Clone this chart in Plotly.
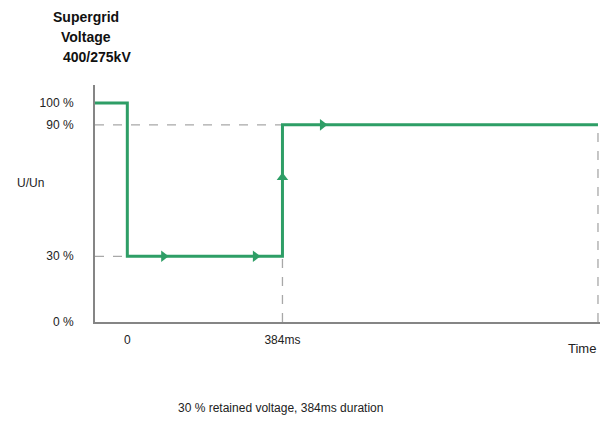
import plotly.graph_objects as go

# Voltage profile (schematic): time in ms, retained voltage in %
time_ms = [-80, 0, 0, 384, 384, 1165]
voltage_pct = [100, 100, 30, 30, 90, 90]

# Direction arrows along the profile
arrow_time = [90, 317, 384, 483]
arrow_volt = [30, 30, 66, 90]
arrow_symbol = ["triangle-right", "triangle-right", "triangle-up", "triangle-right"]

y_tick_vals = [0, 30, 90, 100]
y_tick_text = ["0 %", "30 %", "90 %", "100 %"]
x_tick_vals = [0, 384]
x_tick_text = ["0", "384ms"]

end_ms = 1165
title_lines = ["Supergrid", "Voltage", "400/275kV"]
caption = "30 % retained voltage, 384ms duration"

GREEN = "#2e9e66"
GUIDE = "#a8a8a8"
FONT = "Liberation Sans, Arial, sans-serif"

fig = go.Figure()

# guide lines
guides = [
    ([time_ms[0], end_ms], [90, 90]),
    ([time_ms[0], 0], [30, 30]),
    ([384, 384], [0, 30]),
    ([end_ms, end_ms], [0, 90]),
]
for gx, gy in guides:
    fig.add_trace(go.Scatter(x=gx, y=gy, mode="lines",
                             line=dict(color=GUIDE, width=1.3, dash="dash"),
                             hoverinfo="skip", showlegend=False))

fig.add_trace(go.Scatter(x=time_ms, y=voltage_pct, mode="lines",
                         line=dict(color=GREEN, width=3), showlegend=False))
fig.add_trace(go.Scatter(x=arrow_time, y=arrow_volt, mode="markers",
                         marker=dict(symbol=arrow_symbol, size=10, color=GREEN),
                         showlegend=False))

fig.update_xaxes(range=[-80, 1170], showgrid=False, zeroline=False,
                 showline=True, linecolor="#858585", linewidth=2,
                 tickmode="array", tickvals=x_tick_vals, ticktext=x_tick_text,
                 ticks="", ticklabelstandoff=6,
                 tickfont=dict(family=FONT, size=12, color="#222"))
fig.update_yaxes(range=[0, 108.2], showgrid=False, zeroline=False,
                 showline=True, linecolor="#858585", linewidth=2,
                 tickmode="array", tickvals=y_tick_vals, ticktext=y_tick_text,
                 ticks="", ticklabelstandoff=17,
                 tickfont=dict(family=FONT, size=12, color="#222"))

ann = []
title_pos = [(86, 17), (86, 37), (97, 57)]
for txt, (px, py) in zip(title_lines, title_pos):
    ann.append(dict(text="<b>%s</b>" % txt, xref="paper", yref="paper",
                    x=(px - 95) / 505, y=1 + (85 - py) / 237,
                    xanchor="center", yanchor="middle", showarrow=False,
                    font=dict(family=FONT, size=14, color="#111")))
ann.append(dict(text="U/Un", xref="paper", yref="paper",
                x=(30 - 95) / 505, y=(322 - 183) / 237,
                xanchor="center", yanchor="middle", showarrow=False,
                font=dict(family=FONT, size=12, color="#222")))
ann.append(dict(text="Time", xref="paper", yref="paper",
                x=(582 - 95) / 505, y=(322 - 348) / 237,
                xanchor="center", yanchor="middle", showarrow=False,
                font=dict(family=FONT, size=13, color="#222")))
ann.append(dict(text=caption, xref="paper", yref="paper",
                x=(280 - 95) / 505, y=(322 - 408) / 237,
                xanchor="center", yanchor="middle", showarrow=False,
                font=dict(family=FONT, size=12, color="#222")))

fig.update_layout(width=603, height=426, margin=dict(l=95, r=3, t=85, b=104),
                  plot_bgcolor="white", paper_bgcolor="white",
                  annotations=ann, showlegend=False)

fig.write_html("out.html", config={"displayModeBar": False},
               post_script="document.body.style.margin='0px';document.body.style.overflow='hidden';")
